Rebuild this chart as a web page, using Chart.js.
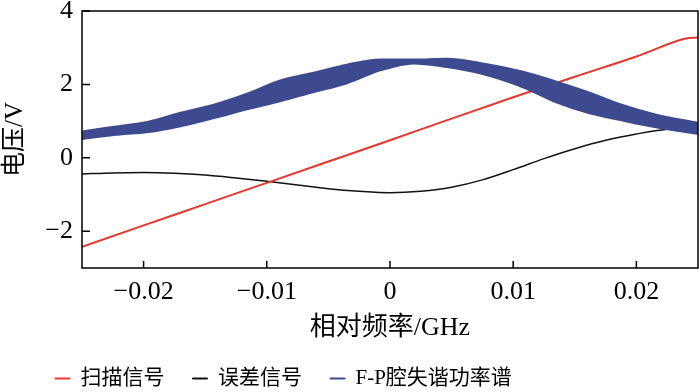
<!DOCTYPE html>
<html>
<head>
<meta charset="utf-8">
<script src="https://cdn.jsdelivr.net/npm/chart.js@4.4.1/dist/chart.umd.min.js"></script>
<style>
  html, body { margin: 0; padding: 0; background: #fff; }
</style>
</head>
<body>
<canvas id="chart" width="700" height="392"></canvas>
<script>
// values
const scanX = [-0.025, -0.02, -0.015, -0.01, -0.005, 0, 0.005, 0.01, 0.015, 0.02, 0.024, 0.025];
const scanY = [-2.42, -1.84, -1.26, -0.68, -0.10, 0.48, 1.07, 1.65, 2.21, 2.76, 3.25, 3.28];

const errX = [-0.025, -0.0225, -0.02, -0.0175, -0.015, -0.0125, -0.01, -0.0075, -0.005, -0.0025, 0, 0.0025, 0.005, 0.0075, 0.01, 0.0125, 0.015, 0.0175, 0.02, 0.0225, 0.025];
const errY = [-0.44, -0.41, -0.40, -0.42, -0.47, -0.55, -0.64, -0.74, -0.84, -0.91, -0.95, -0.91, -0.80, -0.60, -0.32, -0.02, 0.25, 0.48, 0.65, 0.78, 0.82];

const fpX = [-0.025, -0.0224, -0.0196, -0.017, -0.0143, -0.0116, -0.0089, -0.0062, -0.0035, -0.0008, 0.0019, 0.0046, 0.0073, 0.0108, 0.0135, 0.0162, 0.0188, 0.0216, 0.025];
const fpUpper = [0.71, 0.84, 0.98, 1.22, 1.44, 1.74, 2.10, 2.31, 2.53, 2.67, 2.67, 2.69, 2.58, 2.34, 2.07, 1.77, 1.44, 1.17, 0.95];
const fpLower = [0.52, 0.63, 0.71, 0.87, 1.09, 1.33, 1.55, 1.80, 2.04, 2.39, 2.58, 2.48, 2.31, 1.93, 1.52, 1.22, 1.03, 0.84, 0.66];

const xTicks = [-0.02, -0.01, 0, 0.01, 0.02];
const yTicks = [-2, 0, 2, 4];

const RED = '#e8362c';
const BLUE = '#3e4a8f';
const SERIF = "'Liberation Serif', 'Noto Sans CJK SC', serif";

const pts = (xs, ys) => xs.map((x, i) => ({ x: x, y: ys[i] }));
const fmt = (v) => (v < 0 ? '\u2212' : '') + String(Math.abs(v));

// box round the plot area and inward tick marks
const framePlugin = {
    id: 'frame',
    afterDatasetsDraw(chart) {
        const { ctx, chartArea: a, scales: { x, y } } = chart;
        ctx.save();
        ctx.strokeStyle = '#000';
        ctx.lineWidth = 1.5;
        ctx.strokeRect(a.left, a.top, a.right - a.left, a.bottom - a.top);
        ctx.beginPath();
        x.ticks.forEach((t, i) => {
            const px = x.getPixelForTick(i);
            ctx.moveTo(px, a.bottom);
            ctx.lineTo(px, a.bottom - 7);
        });
        y.ticks.forEach((t, i) => {
            const py = y.getPixelForTick(i);
            ctx.moveTo(a.left, py);
            ctx.lineTo(a.left + 8, py);
        });
        ctx.stroke();
        ctx.restore();
    }
};

// legend sits left of centre and a little lower in the reference
const legendShift = {
    id: 'legendShift',
    afterLayout(chart) {
        chart.legend.left += 27;
        chart.legend.right += 27;
        chart.legend.top += 7;
        chart.legend.bottom += 7;
    }
};

new Chart(document.getElementById('chart'), {
    type: 'line',
    data: {
        datasets: [{
            label: '扫描信号',
            data: pts(scanX, scanY),
            borderColor: RED,
            backgroundColor: RED,
            borderWidth: 2,
            order: 1
        }, {
            label: '误差信号',
            data: pts(errX, errY),
            borderColor: '#111',
            backgroundColor: '#111',
            borderWidth: 1.5,
            order: 1
        }, {
            label: 'F-P腔失谐功率谱',
            data: pts(fpX, fpUpper),
            borderColor: BLUE,
            backgroundColor: BLUE,
            borderWidth: 2.5,
            order: 0
        }, {
            label: '',
            data: pts(fpX, fpLower),
            borderColor: BLUE,
            backgroundColor: BLUE,
            borderWidth: 2.5,
            fill: '-1',
            order: 0
        }]
    },
    options: {
        responsive: false,
        animation: false,
        layout: { padding: { top: 11, right: 2, left: 0, bottom: 0 } },
        elements: {
            point: { radius: 0 },
            line: { cubicInterpolationMode: 'monotone' }
        },
        plugins: {
            tooltip: { enabled: false },
            legend: {
                position: 'bottom',
                align: 'start',
                labels: {
                    color: '#000',
                    font: { family: SERIF, size: 21 },
                    boxWidth: 15,
                    boxHeight: 1,
                    padding: 28,
                    generateLabels: (chart) => Chart.defaults.plugins.legend.labels.generateLabels(chart)
                        .map(l => Object.assign(l, { lineWidth: 1 })),
                    filter: (item) => item.text !== '',
                    sort: (a, b) => a.datasetIndex - b.datasetIndex
                }
            }
        },
        scales: {
            x: {
                type: 'linear',
                min: -0.025,
                max: 0.025,
                afterBuildTicks: (s) => { s.ticks = xTicks.map(v => ({ value: v })); },
                afterFit: (s) => { s.height = 65; s.paddingLeft = 0; s.paddingRight = 0; },
                grid: { display: false, drawTicks: false },
                border: { display: false },
                ticks: {
                    color: '#000',
                    padding: 9,
                    maxRotation: 0,
                    font: { family: SERIF, size: 26 },
                    callback: (v) => fmt(v)
                },
                title: {
                    display: true,
                    text: '相对频率/GHz',
                    color: '#000',
                    font: { family: SERIF, size: 26 },
                    padding: { top: 4, bottom: -11 }
                }
            },
            y: {
                min: -3,
                max: 4,
                afterBuildTicks: (s) => { s.ticks = yTicks.map(v => ({ value: v })); },
                afterFit: (s) => { s.width = 82; s.paddingTop = 0; s.paddingBottom = 0; },
                grid: { display: false, drawTicks: false },
                border: { display: false },
                ticks: {
                    color: '#000',
                    padding: 9,
                    font: { family: SERIF, size: 26 },
                    callback: (v) => fmt(v)
                },
                title: {
                    display: true,
                    text: '电压/V',
                    color: '#000',
                    font: { family: SERIF, size: 25 },
                    padding: { top: 0, bottom: 6 }
                }
            }
        }
    },
    plugins: [framePlugin, legendShift]
});
</script>
</body>
</html>
